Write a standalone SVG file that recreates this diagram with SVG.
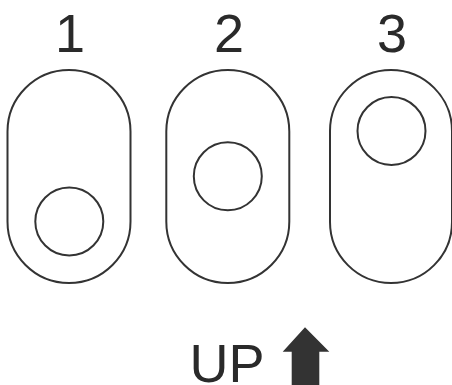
<svg xmlns="http://www.w3.org/2000/svg" width="452" height="385" viewBox="0 0 452 385">
<style>
.slot{fill:none;stroke:#333;stroke-width:2}
.lbl{font-family:"Liberation Sans",Arial,sans-serif;font-size:54px;fill:#2a2a2a;text-anchor:middle}
</style>
<rect width="452" height="385" fill="#fff"/>
<g id="slot1">
<text class="lbl" x="70" y="52">1</text>
<rect class="slot" x="7.5" y="70" width="123" height="213" rx="61.5" ry="61.5"/>
<circle class="slot" cx="69.3" cy="221.5" r="34"/>
</g>
<g id="slot2">
<text class="lbl" x="229" y="52">2</text>
<rect class="slot" x="166.3" y="70" width="123" height="213" rx="61.5" ry="61.5"/>
<circle class="slot" cx="227.8" cy="176.3" r="34"/>
</g>
<g id="slot3">
<text class="lbl" x="392" y="52">3</text>
<rect class="slot" x="330" y="70" width="122" height="213" rx="61" ry="61"/>
<circle class="slot" cx="391.5" cy="131" r="34"/>
</g>
<g id="up">
<text class="lbl" x="227" y="382">UP</text>
<polygon fill="#333" points="305,327.3 329.3,351.7 319.3,351.7 319.3,385 291.7,385 291.7,351.7 282.7,351.7"/>
</g>
</svg>
